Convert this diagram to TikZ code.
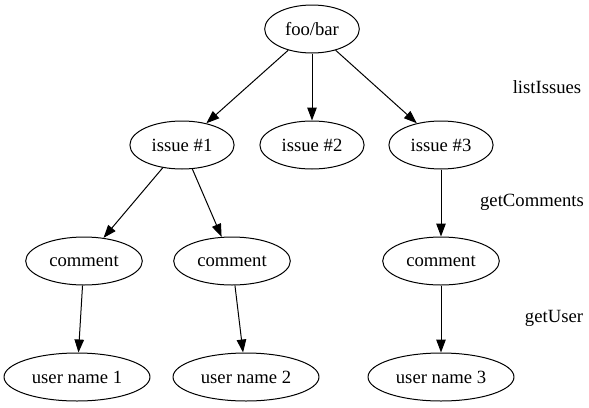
\documentclass[tikz,border=0pt]{standalone}
\usepackage{fontspec}
\setmainfont{Liberation Serif}
\usetikzlibrary{shapes.geometric,arrows.meta}

\begin{document}
\begin{tikzpicture}[
			x = 1pt,
			y = -1pt,
			every node/.style = {font = \fontsize{18.67}{22}\selectfont},
			item/.style = {ellipse, draw, line width = 1pt, minimum height = 48pt, inner xsep = 6.5pt},
			edge/.style = {-{Triangle[length = 13pt, width = 9.5pt]}, line width = 1pt}
		]

		\useasboundingbox (0,0) rectangle (589,407);

		\node[item] (repo) at (312,29) {foo/bar};

		\node[item] (i1) at (182,145) {issue \#1};
		\node[item] (i2) at (312,145) {issue \#2};
		\node[item] (i3) at (441,145) {issue \#3};

		\node[item] (c1) at (84,261) {comment};
		\node[item] (c2) at (232,261) {comment};
		\node[item] (c3) at (441,261) {comment};

		\node[item] (u1) at (77,377) {user name 1};
		\node[item] (u2) at (246,377) {user name 2};
		\node[item] (u3) at (441,377) {user name 3};

		\node (listIssues) at (547,87) {listIssues};
		\node (getComments) at (532,202) {getComments};
		\node (getUser) at (554,318) {getUser};

		\foreach \a/\b in {repo/i1, repo/i2, repo/i3, i1/c1, i1/c2, i3/c3, c1/u1, c2/u2, c3/u3}{
			\draw[edge] (\a) -- (\b);
		}

		\end{tikzpicture}
\end{document}
